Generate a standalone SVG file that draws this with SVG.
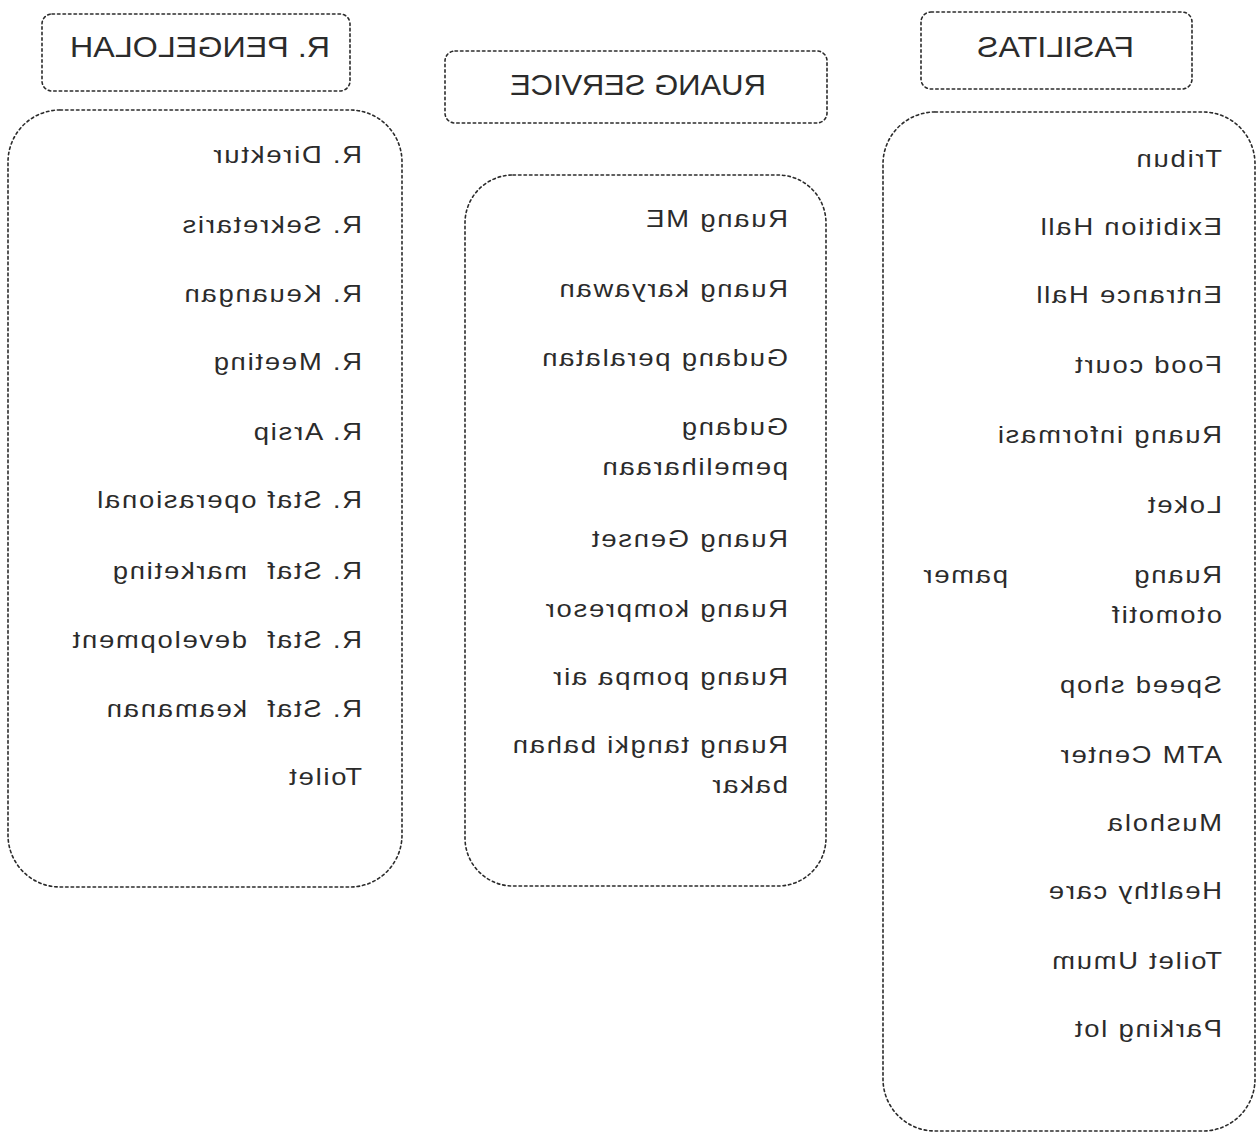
<svg xmlns="http://www.w3.org/2000/svg" width="1259" height="1134" viewBox="0 0 1259 1134">
  <style>
    .frame { fill: none; stroke: #2b2b2b; stroke-width: 1.6; stroke-dasharray: 2.5 3; stroke-linecap: round; }
    .title { font-family: "Liberation Sans", Arial, sans-serif; font-size: 29px; fill: #2b2b2b; }
    .item { font-family: "Liberation Sans", Arial, sans-serif; font-size: 23px; letter-spacing: 1.5px; fill: #2b2b2b; }
  </style>
  <rect width="1259" height="1134" fill="#ffffff"/>

  <!-- all lettering is printed in mirror image (and slightly widened): each label is flipped about its own anchor -->

  <!-- management group -->
  <g id="title-pengelolah">
    <rect class="frame" x="42" y="14" width="308" height="77" rx="10"/>
    <text class="title" transform="translate(330,57) scale(-1,1)" textLength="260" lengthAdjust="spacingAndGlyphs">R. PENGELOLAH</text>
  </g>
  <g id="list-pengelolah">
    <rect class="frame" x="8" y="110" width="394" height="777" rx="52"/>
    <text class="item" transform="translate(362,163) scale(-1.19,1)">R. Direktur</text>
    <text class="item" transform="translate(362,233) scale(-1.19,1)">R. Sekretaris</text>
    <text class="item" transform="translate(362,302) scale(-1.19,1)">R. Keuangan</text>
    <text class="item" transform="translate(362,370) scale(-1.19,1)">R. Meeting</text>
    <text class="item" transform="translate(362,440) scale(-1.19,1)">R. Arsip</text>
    <text class="item" transform="translate(362,508) scale(-1.19,1)">R. Staf operasional</text>
    <text class="item" transform="translate(362,579) scale(-1.19,1)">R. Staf&#160; marketing</text>
    <text class="item" transform="translate(362,648) scale(-1.19,1)">R. Staf&#160; development</text>
    <text class="item" transform="translate(362,717) scale(-1.19,1)">R. Staf&#160; keamanan</text>
    <text class="item" transform="translate(362,785) scale(-1.19,1)">Toilet</text>
  </g>

  <!-- service group -->
  <g id="title-service">
    <rect class="frame" x="445" y="51" width="382" height="72" rx="10"/>
    <text class="title" transform="translate(766,95) scale(-1,1)" textLength="256" lengthAdjust="spacingAndGlyphs">RUANG SERVICE</text>
  </g>
  <g id="list-service">
    <rect class="frame" x="465" y="175" width="361" height="711" rx="48"/>
    <text class="item" transform="translate(788,227) scale(-1.19,1)">Ruang ME</text>
    <text class="item" transform="translate(788,297) scale(-1.19,1)">Ruang karyawan</text>
    <text class="item" transform="translate(788,366) scale(-1.19,1)">Gudang peralatan</text>
    <text class="item" transform="translate(788,435) scale(-1.19,1)">Gudang</text>
    <text class="item" transform="translate(788,475) scale(-1.19,1)">pemeliharaan</text>
    <text class="item" transform="translate(788,547) scale(-1.19,1)">Ruang Genset</text>
    <text class="item" transform="translate(788,617) scale(-1.19,1)">Ruang kompresor</text>
    <text class="item" transform="translate(788,685) scale(-1.19,1)">Ruang pompa air</text>
    <text class="item" transform="translate(788,753) scale(-1.19,1)">Ruang tangki bahan</text>
    <text class="item" transform="translate(788,793) scale(-1.19,1)">bakar</text>
  </g>

  <!-- facilities group -->
  <g id="title-fasilitas">
    <rect class="frame" x="921" y="12" width="271" height="77" rx="10"/>
    <text class="title" transform="translate(1134,57) scale(-1,1)" textLength="157" lengthAdjust="spacingAndGlyphs">FASILITAS</text>
  </g>
  <g id="list-fasilitas">
    <rect class="frame" x="883" y="112" width="372" height="1019" rx="52"/>
    <text class="item" transform="translate(1222,167) scale(-1.19,1)">Tribun</text>
    <text class="item" transform="translate(1222,235) scale(-1.19,1)">Exibition Hall</text>
    <text class="item" transform="translate(1222,303) scale(-1.19,1)">Entrance Hall</text>
    <text class="item" transform="translate(1222,373) scale(-1.19,1)">Food court</text>
    <text class="item" transform="translate(1222,443) scale(-1.19,1)">Ruang informasi</text>
    <text class="item" transform="translate(1222,513) scale(-1.19,1)">Loket</text>
    <text class="item" transform="translate(1222,583) scale(-1.19,1)">Ruang</text>
    <text class="item" transform="translate(1008,583) scale(-1.19,1)">pamer</text>
    <text class="item" transform="translate(1222,623) scale(-1.19,1)">otomotif</text>
    <text class="item" transform="translate(1222,693) scale(-1.19,1)">Speed shop</text>
    <text class="item" transform="translate(1222,763) scale(-1.19,1)">ATM Center</text>
    <text class="item" transform="translate(1222,831) scale(-1.19,1)">Mushola</text>
    <text class="item" transform="translate(1222,899) scale(-1.19,1)">Healthy care</text>
    <text class="item" transform="translate(1222,969) scale(-1.19,1)">Toilet Umum</text>
    <text class="item" transform="translate(1222,1037) scale(-1.19,1)">Parking lot</text>
  </g>

  <!-- no links between the groups -->
  <g id="connectors"/>
</svg>
